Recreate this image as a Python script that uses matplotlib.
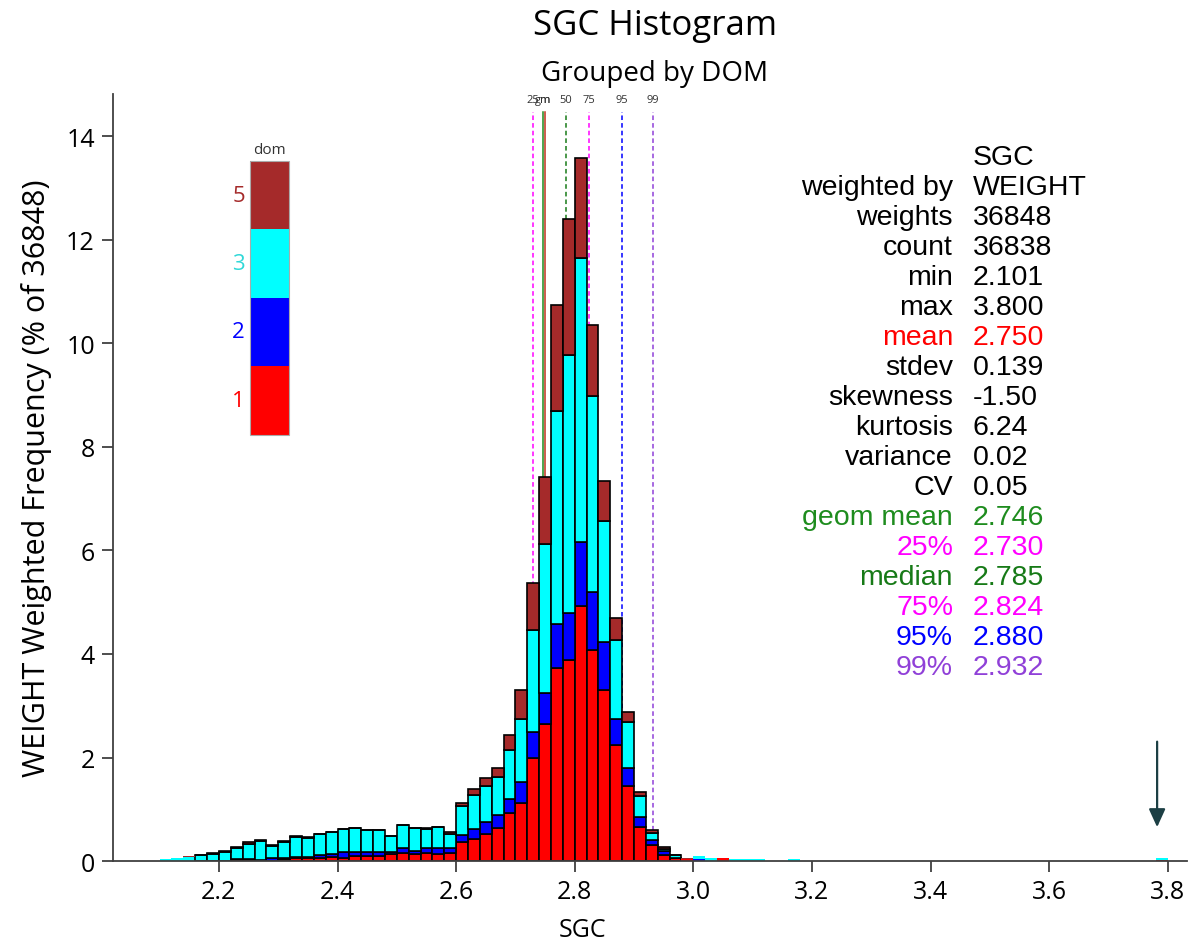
import numpy as np
import matplotlib
matplotlib.use("Agg")
import matplotlib.pyplot as plt
from matplotlib.patches import Rectangle

# bin starts (width 0.02): contiguous block 2.10-3.18 plus the lone bin at the max
bin_width = 0.02
bin_starts = [round(2.10 + 0.02 * i, 2) for i in range(55)] + [3.78]

# weighted frequency (% of 36848) per DOM group
dom1 = [0, 0, 0, 0, 0, 0.01, 0.04, 0.04, 0.01, 0.01,
        0.04, 0.05, 0.06, 0.06, 0.07, 0.05, 0.10, 0.10, 0.10, 0.13,
        0.15, 0.13, 0.15, 0.13, 0.15, 0.36, 0.42, 0.52, 0.63, 0.92,
        1.13, 2.00, 2.65, 3.72, 3.89, 4.93, 4.07, 3.31, 2.24, 1.44,
        0.66, 0.31, 0.12, 0.06, 0.04, 0.01, 0.01, 0.06, 0, 0,
        0, 0, 0, 0, 0, 0.02]
dom2 = [0, 0, 0, 0, 0, 0, 0, 0, 0.01, 0.04,
        0.02, 0.02, 0.02, 0.05, 0.06, 0.12, 0.07, 0.07, 0.07, 0.05,
        0.11, 0.07, 0.10, 0.12, 0.10, 0.14, 0.19, 0.23, 0.26, 0.28,
        0.39, 0.50, 0.60, 0.85, 0.91, 1.24, 1.13, 0.93, 0.51, 0.36,
        0.19, 0.10, 0.07, 0, 0, 0.03, 0, 0, 0, 0,
        0, 0, 0, 0, 0, 0]
dom3 = [0.03, 0.06, 0.08, 0.11, 0.14, 0.17, 0.205, 0.28, 0.36, 0.25,
        0.31, 0.40, 0.37, 0.41, 0.43, 0.44, 0.46, 0.42, 0.42, 0.30,
        0.43, 0.43, 0.37, 0.40, 0.28, 0.57, 0.66, 0.69, 0.74, 0.95,
        1.23, 1.97, 2.88, 4.12, 4.97, 5.49, 3.78, 2.33, 1.53, 0.88,
        0.41, 0.14, 0.04, 0.06, 0, 0.05, 0.04, 0, 0.03, 0.03,
        0.03, 0, 0, 0.03, 0, 0.03]
dom5 = [0, 0, 0.01, 0.01, 0.01, 0.01, 0.035, 0.04, 0.03, 0.01,
        0.01, 0.01, 0.01, 0.01, 0.01, 0.01, 0.01, 0.01, 0.01, 0.01,
        0.01, 0.01, 0.01, 0.01, 0.03, 0.05, 0.12, 0.17, 0.17, 0.29,
        0.56, 0.91, 1.29, 2.06, 2.64, 1.92, 1.37, 0.78, 0.42, 0.20,
        0.07, 0.04, 0.05, 0, 0.01, 0, 0, 0, 0, 0,
        0, 0, 0, 0, 0, 0]

groups = ["1", "2", "3", "5"]
group_colors = ["#ff0000", "#0000ff", "#00ffff", "#a52a2a"]

stat_names = ["weighted by", "weights", "count", "min", "max", "mean", "stdev",
              "skewness", "kurtosis", "variance", "CV", "geom mean", "25%",
              "median", "75%", "95%", "99%"]
stat_values = ["WEIGHT", "36848", "36838", "2.101", "3.800", "2.750", "0.139",
               "-1.50", "6.24", "0.02", "0.05", "2.746", "2.730", "2.785",
               "2.824", "2.880", "2.932"]
stat_colors = ["black"] * 5 + ["#ff0000"] + ["black"] * 5 + \
              ["#1e8c1e", "#ff00ff", "#177a17", "#ff00ff", "#0000ff", "#9040d8"]

# marker lines: label, position, colour, style
line_labels = ["25", "gm", "m", "50", "75", "95", "99"]
line_pos = [2.730, 2.746, 2.750, 2.785, 2.824, 2.880, 2.932]
line_colors = ["#ff00ff", "#1e8c1e", "#c0301e", "#177a17", "#ff00ff", "#0000ff", "#9040d8"]
line_styles = ["--", "-", "-", "--", "--", "--", "--"]

ui_font = ["Open Sans", "DejaVu Sans"]
stat_font = ["Liberation Sans", "DejaVu Sans"]

fig = plt.figure(figsize=(11.99, 9.45), dpi=100)
ax = fig.add_axes([0.0942, 0.0878, 0.8958, 0.8117])

W = 1199.0
H = 945.0

for p, lab, c, ls in zip(line_pos, line_labels, line_colors, line_styles):
    ax.plot([p, p], [0, 14.47], color=c, linestyle=ls, linewidth=1.1,
            dashes=(3, 2) if ls == "--" else (None, None), zorder=1)
    ax.text(p, 14.72, lab, ha="center", va="center", fontsize=8,
            color="#333333", family=ui_font)

totals = np.array(dom1) + np.array(dom2) + np.array(dom3) + np.array(dom5)
edges = ["black" if t >= 0.1 else "none" for t in totals]
bottom = np.zeros(len(bin_starts))
for vals, col in zip([dom1, dom2, dom3, dom5], group_colors):
    ax.bar(bin_starts, vals, width=bin_width, bottom=bottom, align="edge",
           color=col, edgecolor=edges, linewidth=1.2, zorder=2)
    bottom = bottom + np.array(vals)

ax.set_xlim(2.0213, 3.8324)
ax.set_ylim(0, 14.82)
ax.set_xticks([2.2, 2.4, 2.6, 2.8, 3.0, 3.2, 3.4, 3.6, 3.8])
ax.set_xticklabels(["2.2", "2.4", "2.6", "2.8", "3.0", "3.2", "3.4", "3.6", "3.8"])
ax.set_yticks(range(0, 15, 2))
for lbl in ax.get_xticklabels() + ax.get_yticklabels():
    lbl.set_family(ui_font)
    lbl.set_fontsize(18)
ax.tick_params(direction="out", length=8, width=1.3, color="#404040", pad=5)
for s in ["top", "right"]:
    ax.spines[s].set_visible(False)
for s in ["left", "bottom"]:
    ax.spines[s].set_color("#404040")
    ax.spines[s].set_linewidth(1.3)

ax.set_ylabel("WEIGHT Weighted Frequency (% of 36848)", fontsize=22,
              family=ui_font, labelpad=10)
fig.text(583 / W, 1 - 931 / H, "SGC", ha="center", va="center",
         fontsize=18, family=ui_font)

fig.text(655 / W, 1 - 26 / H, "SGC Histogram", ha="center", va="center",
         fontsize=25, family=ui_font)
fig.text(655 / W, 1 - 74 / H, "Grouped by DOM", ha="center", va="center",
         fontsize=20, family=ui_font)

# arrow pointing at the max value
ax.annotate("", xy=(3.782, 0.60), xytext=(3.782, 2.36),
            arrowprops=dict(arrowstyle="-|>,head_length=1.1,head_width=0.5",
                            color="#1c3f44", lw=1.6))

# stats block
fig.text(973 / W, 1 - 158 / H, "SGC", ha="left", va="center",
         fontsize=20.5, family=stat_font)
for i, (nm, val, c) in enumerate(zip(stat_names, stat_values, stat_colors)):
    y = 1 - (158 + 30.0 * (i + 1)) / H
    fig.text(953 / W, y, nm, ha="right", va="center", fontsize=20.5,
             color=c, family=stat_font)
    fig.text(973 / W, y, val, ha="left", va="center", fontsize=20.5,
             color=c, family=stat_font)

# group key
key_order = [3, 2, 1, 0]
seg_h = 68.4
for k, gi in enumerate(key_order):
    top = 162 + seg_h * k
    fig.patches.append(Rectangle((250 / W, 1 - (top + seg_h) / H), 39 / W, seg_h / H,
                                 transform=fig.transFigure, facecolor=group_colors[gi],
                                 edgecolor="none"))
    fig.text(245 / W, 1 - (top + seg_h / 2) / H, groups[gi], ha="right", va="center",
             fontsize=16, color=group_colors[gi] if gi != 2 else "#30d8d8",
             family=ui_font)
fig.patches.append(Rectangle((250 / W, 1 - (162 + 4 * seg_h) / H), 39 / W, 4 * seg_h / H,
                             transform=fig.transFigure, facecolor="none",
                             edgecolor="#aaaaaa", linewidth=0.8))
fig.text(269 / W, 1 - 150 / H, "dom", ha="center", va="center", fontsize=11,
         color="#333333", family=ui_font)

fig.savefig("out.png", dpi=100)
